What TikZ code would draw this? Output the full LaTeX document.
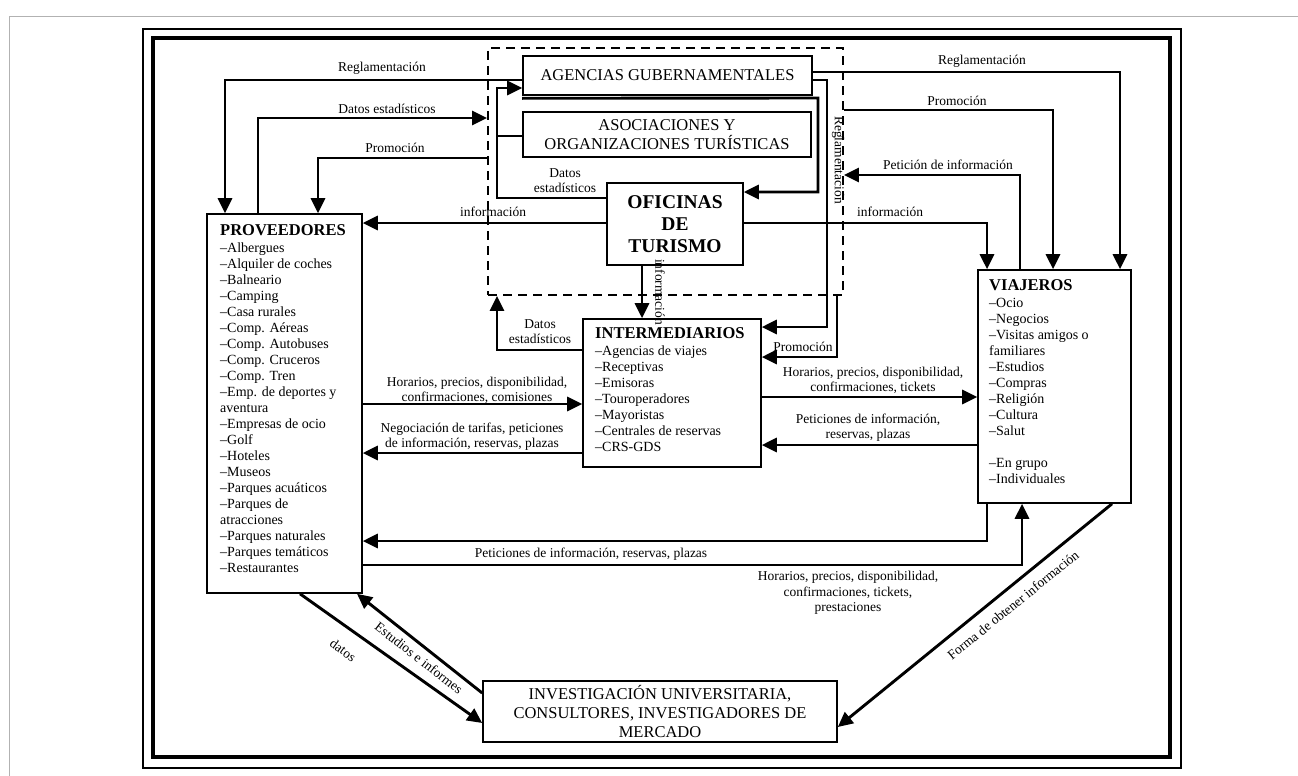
\documentclass[tikz,border=0pt]{standalone}
\usepackage{fontspec}
\setmainfont{Liberation Serif}
\usetikzlibrary{arrows.meta,calc}
\newcommand\ttlfont{\fontsize{16.5}{16}\selectfont\bfseries}
\begin{document}
\begin{tikzpicture}[x=1pt,y=-1pt,
  box/.style={draw, line width=1.6pt, inner sep=0pt},
  bigtxt/.style={font=\fontsize{16.5}{19}\selectfont, align=center},
  listtxt/.style={font=\fontsize{14}{16}\selectfont, align=left, inner sep=0pt},
  conn/.style={line width=2.9pt, -{Triangle[length=15pt,width=14pt]}},
  plainline/.style={line width=2.9pt},
  lbl/.style={font=\fontsize{13.5}{15}\selectfont, align=center, inner sep=0pt}
]
\useasboundingbox (0,0) rectangle (1298,776);
% page frame
\draw[gray!60, line width=1pt] (9,776) -- (9,17) -- (1298,17);
% double frame
\node[draw, line width=1.4pt, minimum width=1038pt, minimum height=739pt, inner sep=0pt] (F1) at (662,398.5) {};
\node[draw, line width=3.4pt, minimum width=1017pt, minimum height=719pt, inner sep=0pt] (F2) at (661.5,397.5) {};
% dashed region
\node[draw, dashed, dash pattern=on 9pt off 6pt, line width=1.8pt, minimum width=355pt, minimum height=247pt, inner sep=0pt] (DR) at (665.5,171.5) {};

% boxes
\node[box, bigtxt, minimum width=289pt, minimum height=39pt] (AG) at (667.5,75.5) {AGENCIAS GUBERNAMENTALES};
\node[box, bigtxt, minimum width=288pt, minimum height=45pt] (AS) at (667,134.5) {ASOCIACIONES Y\\ORGANIZACIONES TURÍSTICAS};
\node[box, align=center, font=\fontsize{19.5}{21.7}\selectfont\bfseries, minimum width=136pt, minimum height=82pt] (OF) at (675,224) {OFICINAS\\DE\\TURISMO};
\node[box, minimum width=178pt, minimum height=148pt] (INT) at (672,393) {};
\node[box, minimum width=155pt, minimum height=379pt] (P) at (284.5,403.5) {};
\node[box, minimum width=153pt, minimum height=233pt] (VIA) at (1054.5,386.5) {};
\node[box, bigtxt, minimum width=354pt, minimum height=61pt] (INV) at (660,711.5) {INVESTIGACIÓN UNIVERSITARIA,\\CONSULTORES, INVESTIGADORES DE\\MERCADO};

% list texts
\node[listtxt, anchor=north west] (Ptxt) at (220,224) {{\ttlfont PROVEEDORES}\\[1pt]
–Albergues\\–Alquiler de coches\\–Balneario\\–Camping\\–Casa rurales\\–Comp. Aéreas\\–Comp. Autobuses\\–Comp. Cruceros\\–Comp. Tren\\–Emp. de deportes y\\aventura\\–Empresas de ocio\\–Golf\\–Hoteles\\–Museos\\–Parques acuáticos\\–Parques de\\atracciones\\–Parques naturales\\–Parques temáticos\\–Restaurantes};
\node[listtxt, anchor=north west] (Itxt) at (595,327) {{\ttlfont INTERMEDIARIOS}\\[1pt]
–Agencias de viajes\\–Receptivas\\–Emisoras\\–Touroperadores\\–Mayoristas\\–Centrales de reservas\\–CRS-GDS};
\node[listtxt, anchor=north west] (Vtxt) at (989,279) {{\ttlfont VIAJEROS}\\[1pt]
–Ocio\\–Negocios\\–Visitas amigos o\\familiares\\–Estudios\\–Compras\\–Religión\\–Cultura\\–Salut\\[16pt]–En grupo\\–Individuales};

% connectors on the left side (top)
\draw[conn] (AG.west |- 0,80) -- (225,80) -- (225,0 |- P.north);
\node[lbl] (l1) at (382,68) {Reglamentación};
\draw[conn] (258,0 |- P.north) -- (258,118) -- (DR.west |- 0,118);
\node[lbl] (l2) at (387,109) {Datos estadísticos};
\draw[conn] (DR.west |- 0,158) -- (318,158) -- (318,0 |- P.north);
\node[lbl] (l3) at (395,148) {Promoción};
\draw[conn] (OF.west |- 0,223) -- (P.east |- 0,223);
\node[lbl] (l4) at (493,212) {información};

% inner loop
\draw[conn] (OF.west |- 0,198) -- (497,198) -- (497,88) -- (AG.west |- 0,88);
\draw[plainline] (497,136) -- (AS.west |- 0,136);
\node[lbl] (l5) at (565,181) {Datos\\estadísticos};
\draw[conn] ([yshift=-2.5pt]AG.south west) -- (818,98) -- (818,192) -- (OF.east |- 0,192);

% right side of government block
\draw[conn] (AG.east |- 0,80) -- (827,80) -- (827,327) -- (INT.east |- 0,327);
\node[lbl, rotate=-90] (l6) at (838,160) {Reglamentación};
\draw[conn] (AG.east |- 0,72) -- (1120,72) -- (1120,0 |- VIA.north);
\node[lbl] (l7) at (982,61) {Reglamentación};
\draw[conn] (DR.east |- 0,110) -- (1053,110) -- (1053,0 |- VIA.north);
\node[lbl] (l8) at (957,101) {Promoción};
\draw[conn] (1020,0 |- VIA.north) -- (1020,175) -- (DR.east |- 0,175);
\node[lbl] (l9) at (948,165) {Petición de información};
\draw[conn] (OF.east |- 0,223) -- (987,223) -- (987,0 |- VIA.north);
\node[lbl] (l10) at (890,212) {información};

% office to intermediaries
\draw[conn] (642,0 |- OF.south) -- (642,0 |- INT.north);
\node[lbl, rotate=-90] (l11) at (660,292) {información};
\draw[conn] (INT.west |- 0,350) -- (497,350) -- (497,0 |- DR.south);
\node[lbl] (l12) at (540,332) {Datos\\estadísticos};
\draw[conn] (837,0 |- DR.south) -- (837,357) -- (INT.east |- 0,357);
\node[lbl] (l13) at (803,347) {Promoción};

% middle flows
\draw[conn] (P.east |- 0,404) -- (INT.west |- 0,404);
\node[lbl] (l14) at (477,390) {Horarios, precios, disponibilidad,\\confirmaciones, comisiones};
\draw[conn] (INT.west |- 0,453) -- (P.east |- 0,453);
\node[lbl] (l15) at (472,437) {Negociación de tarifas, peticiones\\de información, reservas, plazas};
\draw[conn] (INT.east |- 0,397) -- (VIA.west |- 0,397);
\node[lbl] (l16) at (873,380) {Horarios, precios, disponibilidad,\\confirmaciones, tickets};
\draw[conn] (VIA.west |- 0,445) -- (INT.east |- 0,445);
\node[lbl] (l17) at (868,428) {Peticiones de información,\\reservas, plazas};

% bottom flows
\draw[conn] (987,0 |- VIA.south) -- (987,541) -- (P.east |- 0,541);
\node[lbl] (l18) at (591,554) {Peticiones de información, reservas, plazas};
\draw[conn] (P.east |- 0,565) -- (1022,565) -- (1022,0 |- VIA.south);
\node[lbl, font=\fontsize{13.5}{15.5}\selectfont] (l19) at (848,593) {Horarios, precios, disponibilidad,\\confirmaciones, tickets,\\prestaciones};

% research
\draw[conn] (1112,0 |- VIA.south) -- (INV.east |- 0,727);
\node[lbl, rotate=39] (l20) at (1013,605) {Forma de obtener información};
\draw[conn] (300,0 |- P.south) -- (INV.west |- 0,723);
\node[lbl, rotate=-36] (l21) at (343,650) {datos};
\draw[conn] (INV.west |- 0,693) -- (357,0 |- P.south);
\node[lbl, rotate=-38] (l22) at (419,658) {Estudios e informes};
\end{tikzpicture}
\end{document}
